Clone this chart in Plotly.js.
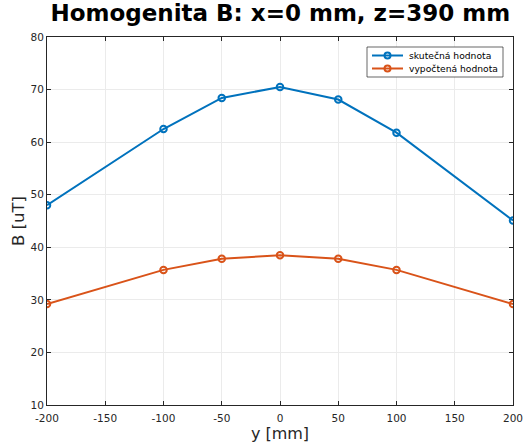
<!DOCTYPE html>
<html><head><meta charset="utf-8">
<script src="https://cdn.plot.ly/plotly-3.0.1.min.js"></script>
<style>body{margin:0;padding:0;background:#fff}#g{width:524px;height:443px}</style>
</head><body><div id="g"></div>
<script>
var yPos = [-200, -100, -50, 0, 50, 100, 200];
var measured = [48.0, 62.5, 68.4, 70.5, 68.1, 61.8, 45.1];
var computed = [29.2, 35.7, 37.8, 38.5, 37.8, 35.7, 29.2];
var seriesNames = ['skutečná hodnota', 'vypočtená hodnota'];
var seriesColors = ['#0072BD', '#D95319'];
var xTicks = [-200, -150, -100, -50, 0, 50, 100, 150, 200];
var yTicks = [10, 20, 30, 40, 50, 60, 70, 80];
var font = 'DejaVu Sans, sans-serif';

var W = 524, H = 443, M = {l: 47, r: 11, t: 37, b: 38};
var PW = W - M.l - M.r, PH = H - M.t - M.b;
function px(x){ return (x - M.l) / PW; }
function py(y){ return (H - M.b - y) / PH; }

function tr(y, name, color){
  return {x: yPos, y: y, name: name, type: 'scatter', mode: 'lines+markers', showlegend: false,
    line: {color: color, width: 2},
    marker: {symbol: 'circle-open', size: 6.5, color: color, line: {width: 2, color: color}}};
}
var data = [tr(measured, seriesNames[0], seriesColors[0]), tr(computed, seriesNames[1], seriesColors[1])];

var shapes = [], annotations = [];
shapes.push({type: 'rect', xref: 'paper', yref: 'paper', x0: px(367), x1: px(503), y0: py(77), y1: py(47),
  line: {color: '#262626', width: 0.7}, fillcolor: '#fff', layer: 'above'});
seriesNames.forEach(function(n, i){
  var yy = 55.5 + i * 13;
  shapes.push({type: 'line', xref: 'paper', yref: 'paper', x0: px(372), x1: px(403), y0: py(yy), y1: py(yy),
    line: {color: seriesColors[i], width: 2}, layer: 'above'});
  shapes.push({type: 'circle', xref: 'paper', yref: 'paper', xsizemode: 'pixel', ysizemode: 'pixel',
    xanchor: px(387.5), yanchor: py(yy), x0: -3, x1: 3, y0: -3, y1: 3,
    line: {color: seriesColors[i], width: 2}, fillcolor: 'rgba(0,0,0,0)', layer: 'above'});
  annotations.push({xref: 'paper', yref: 'paper', x: px(407), y: py(yy), xanchor: 'left', yanchor: 'middle',
    text: n, showarrow: false, font: {family: font, size: 9.2, color: '#000'}});
});

var ax = {showline: true, mirror: 'ticks', linecolor: '#262626', linewidth: 1,
  ticks: 'inside', ticklen: 4, tickcolor: '#262626', showgrid: true, gridcolor: '#ebebeb',
  zeroline: false, tickfont: {family: font, size: 10.5, color: '#262626'}};
var layout = {
  width: W, height: H, margin: M,
  paper_bgcolor: '#fff', plot_bgcolor: '#fff',
  title: {text: '<b>Homogenita B: x=0 mm, z=390 mm</b>', font: {family: font, size: 23, color: '#000'},
    x: 0.535, xanchor: 'center', y: 0.99, yanchor: 'top'},
  xaxis: Object.assign({}, ax, {range: [-200, 200], tickmode: 'array', tickvals: xTicks,
    ticktext: xTicks.map(String), ticklabelstandoff: 3,
    title: {text: 'y [mm]', font: {family: font, size: 16, color: '#262626'}, standoff: 1}}),
  yaxis: Object.assign({}, ax, {range: [10, 80], tickmode: 'array', tickvals: yTicks,
    ticktext: yTicks.map(String),
    title: {text: 'B [uT]', font: {family: font, size: 16.5, color: '#262626'}, standoff: 1}}),
  shapes: shapes, annotations: annotations,
  showlegend: false
};
Plotly.newPlot('g', data, layout, {staticPlot: true, displayModeBar: false});
</script></body></html>
